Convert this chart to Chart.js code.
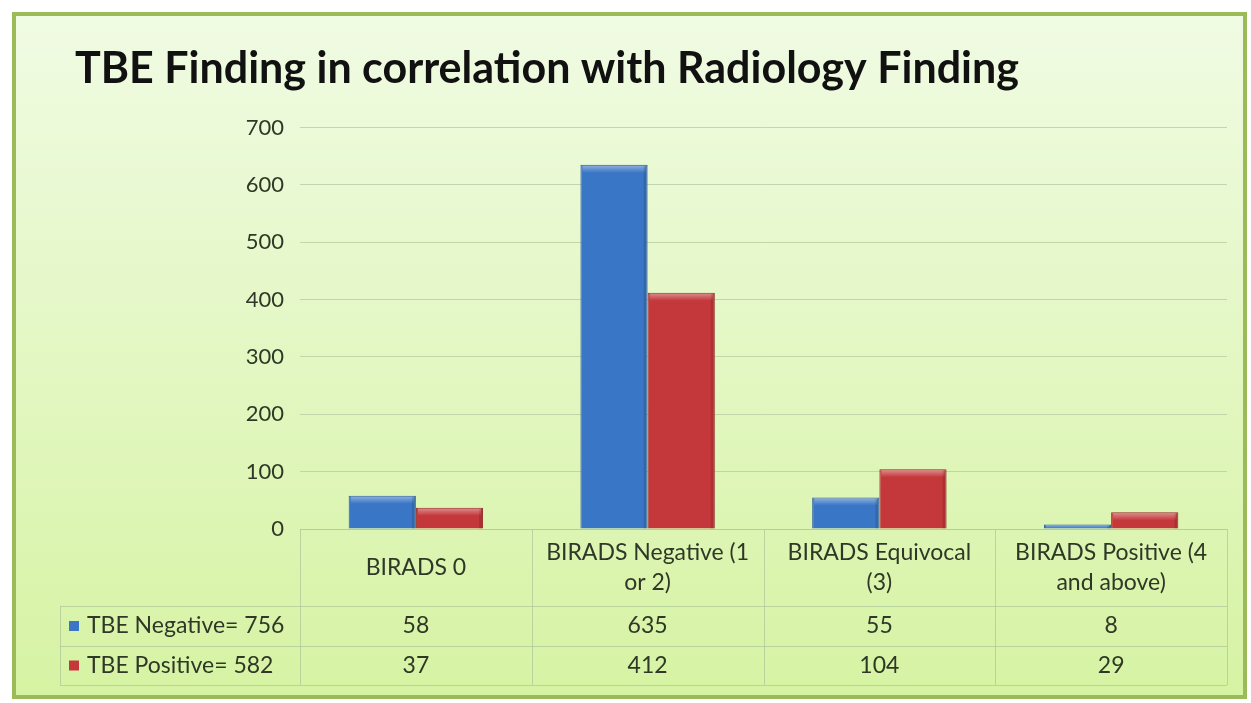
<!DOCTYPE html>
<html>
<head>
<meta charset="utf-8">
<script src="https://cdn.jsdelivr.net/npm/chart.js@4"></script>
<style>
  html, body { margin: 0; padding: 0; background: #fff; }
  #wrap { width: 1251px; height: 703px; }
</style>
</head>
<body>
<div id="wrap"><canvas id="tbeChart" width="1251" height="703"></canvas></div>
<script>
// data
const categories = [["BIRADS 0"], ["BIRADS Negative (1", "or 2)"], ["BIRADS Equivocal", "(3)"], ["BIRADS Positive (4", "and above)"]];
const negLabel = "TBE Negative= 756";
const posLabel = "TBE Positive= 582";
const negValues = [58, 635, 55, 8];
const posValues = [37, 412, 104, 29];
const yTicks = [0, 100, 200, 300, 400, 500, 600, 700];

const FONT = "Lato, 'Open Sans', sans-serif";
const BLUE = "#3a76c6";
const RED = "#c4373a";
const TEXT = "#2f3826";

// background + frame
const frame = {
  id: "frame",
  beforeDraw(chart) {
    const c = chart.ctx;
    const g = c.createLinearGradient(0, 14, 0, 697);
    g.addColorStop(0, "#f0fbe3");
    g.addColorStop(1, "#d6f3a3");
    c.save();
    c.fillStyle = "#fff";
    c.fillRect(0, 0, chart.width, chart.height);
    c.fillStyle = g;
    c.fillRect(14, 14, 1231, 683);
    c.strokeStyle = "#9bbb59";
    c.lineWidth = 4;
    c.strokeRect(14, 14, 1231, 683);
    c.restore();
  }
};

// light rim on top of each bar, like the bevelled bars in the original
const bevel = {
  id: "bevel",
  afterDatasetsDraw(chart) {
    const c = chart.ctx;
    c.save();
    chart.data.datasets.forEach((ds, di) => {
      chart.getDatasetMeta(di).data.forEach(bar => {
        const p = bar.getProps(["x", "y", "base", "width"], true);
        const h = p.base - p.y;
        if (h < 3) return;
        const l = p.x - p.width / 2;
        const g = c.createLinearGradient(0, p.y, 0, p.y + Math.min(8, h));
        g.addColorStop(0, "rgba(255,255,255,0.45)");
        g.addColorStop(1, "rgba(255,255,255,0)");
        c.fillStyle = g;
        c.fillRect(l + 2, p.y + 1, p.width - 4, Math.min(8, h - 1));
        c.fillStyle = "rgba(0,0,0,0.12)";
        c.fillRect(l + p.width - 4, p.y + 1, 3, h - 1);
      });
    });
    c.restore();
  }
};

// data table under the axis
const dataTable = {
  id: "dataTable",
  afterDraw(chart) {
    const c = chart.ctx;
    const x = chart.scales.x;
    const area = chart.chartArea;
    const top = area.bottom;
    const headBottom = 606;
    const row1 = 646;
    const row2 = 685;
    const legLeft = 60;
    const step = (area.right - area.left) / categories.length;
    c.save();
    c.strokeStyle = "rgba(175,200,155,0.75)";
    c.lineWidth = 1;
    c.beginPath();
    c.moveTo(area.left, top + 0.5); c.lineTo(area.right, top + 0.5);
    c.moveTo(legLeft, headBottom + 0.5); c.lineTo(area.right, headBottom + 0.5);
    c.moveTo(legLeft, row1 + 0.5); c.lineTo(area.right, row1 + 0.5);
    c.moveTo(legLeft, row2 + 0.5); c.lineTo(area.right, row2 + 0.5);
    c.moveTo(legLeft + 0.5, headBottom); c.lineTo(legLeft + 0.5, row2);
    for (let i = 0; i <= categories.length; i++) {
      const vx = Math.round(area.left + i * step) + 0.5;
      c.moveTo(vx, top); c.lineTo(vx, row2);
    }
    c.stroke();

    c.fillStyle = TEXT;
    c.font = "23px " + FONT;
    c.textAlign = "center";
    c.textBaseline = "middle";
    categories.forEach((lines, i) => {
      const cx = x.getPixelForValue(i);
      const mid = (top + headBottom) / 2;
      const lh = 30;
      lines.forEach((ln, j) => {
        c.fillText(ln, cx, mid + (j - (lines.length - 1) / 2) * lh);
      });
      c.fillText(String(negValues[i]), cx, (headBottom + row1) / 2);
      c.fillText(String(posValues[i]), cx, (row1 + row2) / 2);
    });

    c.textAlign = "left";
    [[negLabel, BLUE, (headBottom + row1) / 2], [posLabel, RED, (row1 + row2) / 2]].forEach(([t, col, y]) => {
      c.fillStyle = col;
      c.fillRect(69, y - 5, 10, 10);
      c.fillStyle = TEXT;
      c.fillText(t, 87, y);
    });
    c.restore();
  }
};

new Chart(document.getElementById("tbeChart").getContext("2d"), {
  type: "bar",
  data: {
    labels: categories,
    datasets: [{
      label: negLabel,
      data: negValues,
      backgroundColor: BLUE,
      borderColor: "#2c5d9e",
      borderWidth: 1
    }, {
      label: posLabel,
      data: posValues,
      backgroundColor: RED,
      borderColor: "#962a2a",
      borderWidth: 1
    }]
  },
  options: {
    responsive: false,
    animation: false,
    layout: { padding: { left: 75, top: 38, right: 24, bottom: 174 } },
    datasets: { bar: { barPercentage: 1, categoryPercentage: 0.58 } },
    scales: {
      x: { display: false },
      y: {
        min: 0,
        max: 700,
        afterFit(scale) { scale.width = 225; },
        afterBuildTicks(scale) { scale.ticks = yTicks.map(v => ({ value: v })); },
        border: { display: false },
        grid: { color: "rgba(190,210,170,0.9)", drawTicks: false },
        ticks: { padding: 16, color: TEXT, font: { family: FONT, size: 22 } }
      }
    },
    plugins: {
      legend: { display: false },
      tooltip: { enabled: false },
      title: {
        display: true,
        align: "start",
        text: "TBE Finding in correlation with Radiology Finding",
        color: "#111",
        font: { family: FONT, size: 43, weight: "bold" },
        padding: { top: 5, bottom: 33 }
      }
    }
  },
  plugins: [frame, bevel, dataTable]
});
</script>
</body>
</html>
